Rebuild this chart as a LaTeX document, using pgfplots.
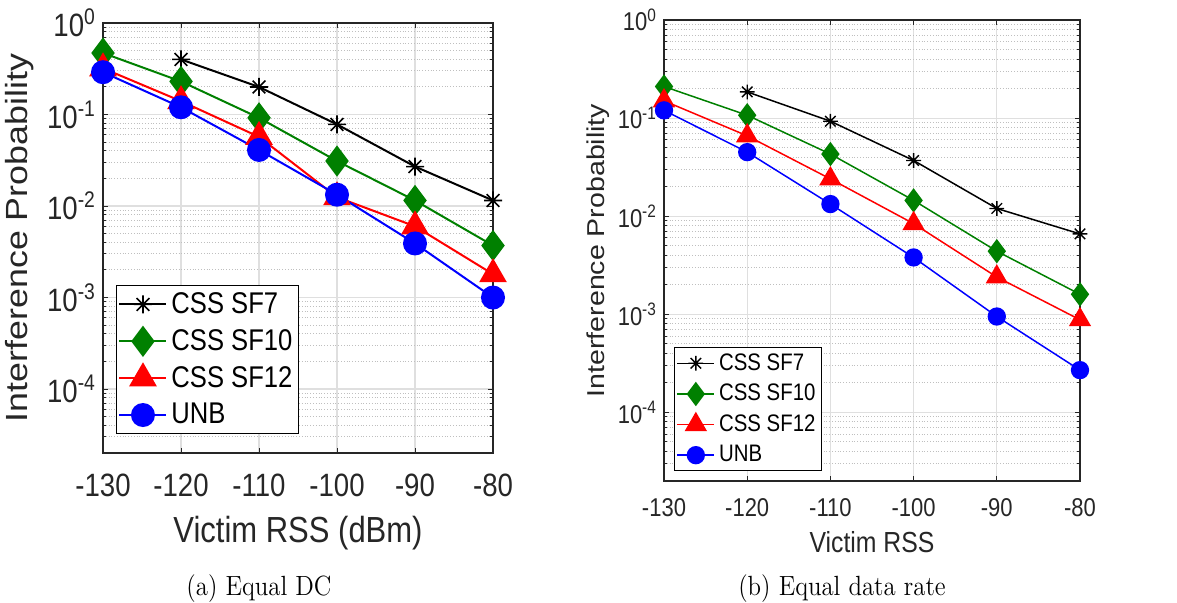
\documentclass[border=0pt]{standalone}
\usepackage{graphicx}
\usepackage{pgfplots}
\pgfplotsset{compat=1.18}
\usepackage{fontspec}
\newfontfamily\arial{Liberation Sans}
\newcommand\vs[1]{\scalebox{1}[1.17]{#1}}
\newcommand\hs[1]{\scalebox{1.17}[1]{#1}}
\definecolor{mgreen}{rgb}{0,0.5,0}
\definecolor{axgray}{gray}{0.15}
\pgfdeclareplotmark{mstar}{%
 \pgfpathmoveto{\pgfqpoint{-\pgfplotmarksize}{0pt}}\pgfpathlineto{\pgfqpoint{\pgfplotmarksize}{0pt}}%
 \pgfpathmoveto{\pgfqpoint{0pt}{-\pgfplotmarksize}}\pgfpathlineto{\pgfqpoint{0pt}{\pgfplotmarksize}}%
 \pgfpathmoveto{\pgfqpoint{-.7071\pgfplotmarksize}{-.7071\pgfplotmarksize}}\pgfpathlineto{\pgfqpoint{.7071\pgfplotmarksize}{.7071\pgfplotmarksize}}%
 \pgfpathmoveto{\pgfqpoint{-.7071\pgfplotmarksize}{.7071\pgfplotmarksize}}\pgfpathlineto{\pgfqpoint{.7071\pgfplotmarksize}{-.7071\pgfplotmarksize}}%
 \pgfusepathqstroke}
\pgfplotsset{
  mstyle/.style={
    scale only axis, clip=false,
    xmin=-130, xmax=-80, ymin=2e-5, ymax=1,
    xtick={-130,-120,-110,-100,-90,-80},
    xticklabels={\vs{-130},\vs{-120},\vs{-110},\vs{-100},\vs{-90},\vs{-80}},
    ytick={1e-4,1e-3,1e-2,1e-1,1},
    yticklabels={\vs{10\textsuperscript{-4}},\vs{10\textsuperscript{-3}},\vs{10\textsuperscript{-2}},\vs{10\textsuperscript{-1}},\vs{10\textsuperscript{0}}},
    minor ytick={2e-5,3e-5,4e-5,5e-5,6e-5,7e-5,8e-5,9e-5,
                 2e-4,3e-4,4e-4,5e-4,6e-4,7e-4,8e-4,9e-4,
                 2e-3,3e-3,4e-3,5e-3,6e-3,7e-3,8e-3,9e-3,
                 2e-2,3e-2,4e-2,5e-2,6e-2,7e-2,8e-2,9e-2,
                 2e-1,3e-1,4e-1,5e-1,6e-1,7e-1,8e-1,9e-1},
    xmajorgrids, ymajorgrids, yminorgrids,
    major grid style={gray!25, line width=0.6pt},
    minor grid style={gray!50, densely dotted, line width=0.5pt},
    tick align=inside, major tick length=2.5pt, minor tick length=1.5pt,
    axis line style={axgray, line width=0.6pt},
    every tick/.style={axgray, line width=0.5pt},
    tick label style={text=axgray},
    label style={text=axgray},
    legend cell align=left,
  },
}
\begin{document}
\begin{tikzpicture}
\useasboundingbox (0,0) rectangle (588.5pt,301pt);
% ---------- left ----------
\begin{semilogyaxis}[mstyle,
  at={(51.5pt,74.5pt)}, anchor=south west,
  width=195pt, height=215pt,
  tick label style={font=\arial\fontsize{13.8}{16}\selectfont},
  xticklabel style={yshift=-7pt},
  xlabel={\vs{Victim RSS (dBm)}}, ylabel={\hs{Interference Probability}},
  xlabel style={font=\arial\fontsize{15.5}{18}\selectfont, at={(axis description cs:0.5,-0.186)}, anchor=center},
  ylabel style={font=\arial\fontsize{15.3}{18}\selectfont, at={(axis description cs:-0.213,0.5)}, anchor=center},
  legend style={at={(0.033,0.391)}, anchor=north west, draw=black, line width=0.6pt, fill=white,
    font=\arial\fontsize{12.8}{14}\selectfont, row sep=2.5pt, inner xsep=1pt, inner ysep=1.5pt},
  legend image code/.code={\draw[mark repeat=2,mark phase=2] plot coordinates {(0pt,0pt) (11.75pt,0pt) (23.5pt,0pt)};},
]
\addplot[black, line width=1pt, mark=mstar, mark size=4.5pt, mark options={line width=0.8pt}]
  coordinates {(-120,0.40)(-110,0.20)(-100,0.078)(-90,0.027)(-80,0.0115)};
\addlegendentry{\vs{CSS SF7}}
\addplot[mgreen, line width=1pt, mark=diamond*, mark size=7pt, mark options={fill=mgreen}]
  coordinates {(-130,0.47)(-120,0.23)(-110,0.092)(-100,0.031)(-90,0.0115)(-80,0.0037)};
\addlegendentry{\vs{CSS SF10}}
\addplot[red, line width=1pt, mark=triangle*, mark size=7pt, mark options={fill=red}]
  coordinates {(-130,0.32)(-120,0.14)(-110,0.057)(-100,0.0125)(-90,0.006)(-80,0.0018)};
\addlegendentry{\vs{CSS SF12}}
\addplot[blue, line width=1pt, mark=*, mark size=5.5pt, mark options={fill=blue}]
  coordinates {(-130,0.29)(-120,0.12)(-110,0.041)(-100,0.0133)(-90,0.0039)(-80,0.001)};
\addlegendentry{\vs{UNB}}
\end{semilogyaxis}
% ---------- right ----------
\begin{semilogyaxis}[mstyle,
  at={(332pt,60.5pt)}, anchor=south west,
  width=208pt, height=230.5pt,
  tick label style={font=\arial\fontsize{11}{13}\selectfont},
  xticklabel style={yshift=-5pt},
  xlabel={\vs{Victim RSS}}, ylabel={\hs{Interference Probability}},
  xlabel style={font=\arial\fontsize{12.4}{14}\selectfont, at={(axis description cs:0.5,-0.133)}, anchor=center},
  ylabel style={font=\arial\fontsize{12.2}{14}\selectfont, at={(axis description cs:-0.159,0.5)}, anchor=center},
  legend style={at={(0.024,0.291)}, anchor=north west, draw=black, line width=0.6pt, fill=white,
    font=\arial\fontsize{10.2}{12}\selectfont, row sep=1.5pt, inner xsep=1pt, inner ysep=1pt},
  legend image code/.code={\draw[mark repeat=2,mark phase=2] plot coordinates {(0pt,0pt) (9.25pt,0pt) (18.5pt,0pt)};},
]
\addplot[black, line width=0.75pt, mark=mstar, mark size=3.7pt, mark options={line width=0.7pt}]
  coordinates {(-120,0.185)(-110,0.093)(-100,0.037)(-90,0.012)(-80,0.0066)};
\addlegendentry{\vs{CSS SF7}}
\addplot[mgreen, line width=0.75pt, mark=diamond*, mark size=5.5pt, mark options={fill=mgreen}]
  coordinates {(-130,0.21)(-120,0.107)(-110,0.043)(-100,0.0145)(-90,0.0044)(-80,0.0016)};
\addlegendentry{\vs{CSS SF10}}
\addplot[red, line width=0.75pt, mark=triangle*, mark size=5.7pt, mark options={fill=red}]
  coordinates {(-130,0.15)(-120,0.066)(-110,0.024)(-100,0.0084)(-90,0.0024)(-80,0.00088)};
\addlegendentry{\vs{CSS SF12}}
\addplot[blue, line width=0.75pt, mark=*, mark size=4.2pt, mark options={fill=blue}]
  coordinates {(-130,0.12)(-120,0.045)(-110,0.0133)(-100,0.0038)(-90,0.00095)(-80,0.00027)};
\addlegendentry{\vs{UNB}}
\end{semilogyaxis}
\node[anchor=base, font=\fontsize{12.4}{15}\selectfont] at (129.5pt,3.5pt) {\scalebox{1}[1.12]{(a) Equal DC}};
\node[anchor=base, font=\fontsize{12.4}{15}\selectfont] at (421pt,3.5pt) {\scalebox{1}[1.12]{(b) Equal data rate}};
\end{tikzpicture}
\end{document}
